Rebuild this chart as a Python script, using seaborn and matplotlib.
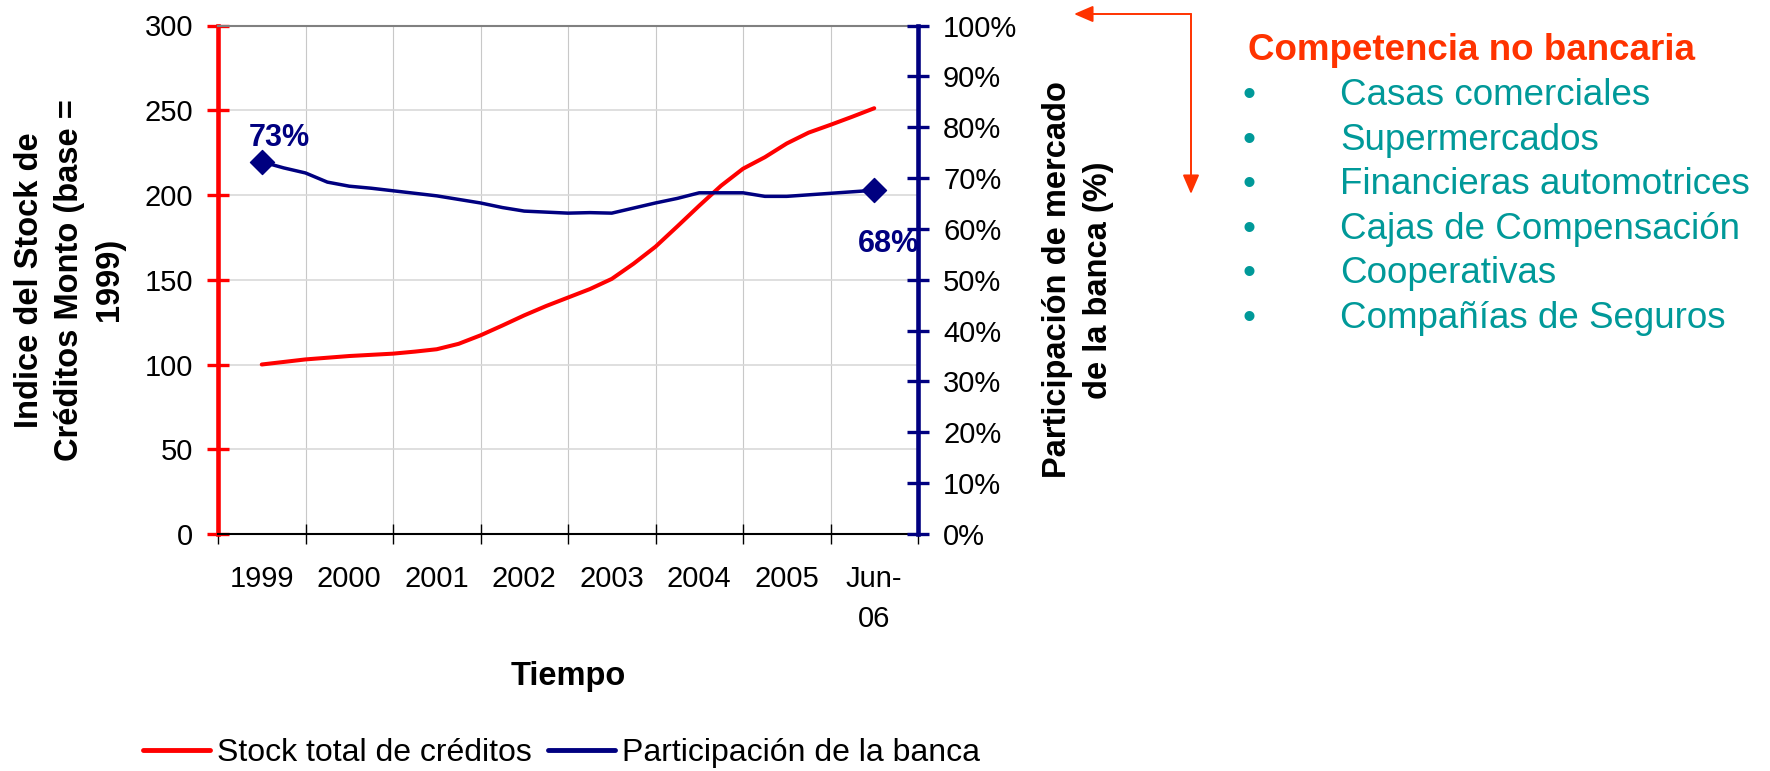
import numpy as np
import pandas as pd
import matplotlib
matplotlib.use("Agg")
import matplotlib.pyplot as plt
from matplotlib.patches import FancyArrowPatch
import seaborn as sns

# ------------------------------------------
# DATA (one point per period)
# ------------------------------------------
stock_creditos = [100, 101.5, 103, 104, 105, 105.7, 106.4, 107.6, 109,
                  112.2, 117.2, 123, 129, 134.5, 139.5, 144.5, 150.5,
                  159.5, 169.5, 181.5, 193.7, 205.5, 215.5, 222.3, 230.4,
                  236.8, 241.4, 246.2, 251.2]
part_banca = [73.2, 72.0, 71.0, 69.2, 68.4, 68.0, 67.5, 67.0, 66.5,
              65.8, 65.1, 64.2, 63.5, 63.3, 63.1, 63.2, 63.1,
              64.1, 65.1, 66.0, 67.1, 67.1, 67.1, 66.4, 66.4,
              66.7, 67.0, 67.3, 67.6]
anios = ["1999", "2000", "2001", "2002", "2003", "2004", "2005", "Jun-\n06"]
competencia = ["Casas comerciales", "Supermercados", "Financieras automotrices",
               "Cajas de Compensación", "Cooperativas", "Compañías de Seguros"]

df = pd.DataFrame({"periodo": np.arange(len(stock_creditos)),
                   "stock": stock_creditos,
                   "banca": part_banca})

# ------------------------------------------
# STYLE
# ------------------------------------------
sns.set_theme(style="white")
plt.rcParams["font.family"] = ["Liberation Sans", "DejaVu Sans"]
plt.rcParams["text.color"] = "black"
plt.rcParams["axes.labelcolor"] = "black"

ROJO = "#FF0000"
AZUL = "#000080"
NARANJA = "#FF3300"
TEAL = "#009999"

W, H = 1770, 771
fig = plt.figure(figsize=(W / 100, H / 100), dpi=100)
ax = fig.add_axes([218 / W, 1 - 534 / H, 700 / W, 508.5 / H])

# left axis: stock index
sns.lineplot(data=df, x="periodo", y="stock", ax=ax, color=ROJO, lw=2.9,
             label="Stock total de créditos")

# right axis: market share
ax2 = ax.twinx()
sns.lineplot(data=df, x="periodo", y="banca", ax=ax2, color=AZUL, lw=2.5,
             label="Participación de la banca")
sns.scatterplot(data=df.iloc[[0, -1]], x="periodo", y="banca", ax=ax2,
                marker="D", s=150, color=AZUL, edgecolor=AZUL, zorder=5,
                legend=False)

ax.set_xlim(-2, 30)
ax.set_ylim(0, 300)
ax2.set_ylim(0, 100)

# x axis: ticks between years, labels in the middle
ax.set_xticks(np.arange(-2, 31, 4))
ax.set_xticklabels([])
ax.set_xticks(np.arange(0, 29, 4), minor=True)
ax.set_xticklabels(anios, minor=True, fontsize=21)
for lbl in ax.get_xticklabels(minor=True):
    lbl.set_linespacing(1.55)
ax.tick_params(axis="x", which="major", direction="inout", length=14,
               width=1, color="black", bottom=True)
ax.tick_params(axis="x", which="minor", length=0, pad=22, bottom=True,
               labelcolor="black")

ax.set_yticks(np.arange(0, 301, 50))
ax.tick_params(axis="y", direction="inout", length=16, width=2.4,
               color=ROJO, pad=10, labelsize=21, left=True, labelcolor="black")
ax2.set_yticks(np.arange(0, 101, 10))
ax2.set_yticklabels([f"{v}%" for v in range(0, 101, 10)])
ax2.tick_params(axis="y", direction="inout", length=16, width=2.4,
                color=AZUL, pad=10, labelsize=21, right=True, labelcolor="black")

ax.grid(True, axis="x", which="major", color="#c8c8c8", lw=0.8)
ax.grid(True, axis="y", color="#d9d9d9", lw=1.2)
ax2.grid(False)

ax.spines["right"].set_visible(False)
for s in ["left", "top", "bottom"]:
    ax2.spines[s].set_visible(False)
ax.spines["left"].set_color(ROJO)
ax.spines["left"].set_linewidth(3.3)
ax.spines["top"].set_color("#808080")
ax.spines["top"].set_linewidth(1.5)
ax.spines["bottom"].set_color("black")
ax.spines["bottom"].set_linewidth(1.5)
ax2.spines["right"].set_color(AZUL)
ax2.spines["right"].set_linewidth(3.3)

# axis labels
ax.set_ylabel("Indice del Stock de\nCréditos Monto (base =\n1999)",
              fontsize=23.5, fontweight="bold", linespacing=1.37, va="center")
ax.yaxis.set_label_coords((69.5 - 218) / 700, 0.5)
ax2.set_ylabel("Participación de mercado\nde la banca (%)",
               fontsize=23.5, fontweight="bold", linespacing=1.45, va="center")
ax2.yaxis.set_label_coords((1078 - 218) / 700, 0.5)
ax.set_xlabel("Tiempo", fontsize=23.5, fontweight="bold", va="center")
ax.xaxis.set_label_coords(0.5, (534 - 676) / 508.5)

# first / last value labels
ax2.annotate("73%", (df["periodo"].iloc[0], part_banca[0]), xytext=(13, 17),
             textcoords="offset points", ha="center", va="center",
             fontsize=22, fontweight="bold", color=AZUL)
ax2.annotate("68%", (df["periodo"].iloc[-1], part_banca[-1]), xytext=(10, -39),
             textcoords="offset points", ha="center", va="center",
             fontsize=22, fontweight="bold", color=AZUL)

# legend at the bottom
h1, l1 = ax.get_legend_handles_labels()
h2, l2 = ax2.get_legend_handles_labels()
for a in (ax, ax2):
    if a.get_legend() is not None:
        a.get_legend().remove()
leg = fig.legend(h1 + h2, l1 + l2, loc="center",
                 bbox_to_anchor=(561.5 / W, 1 - 753 / H), ncol=2, frameon=False,
                 fontsize=23, handlelength=2.1, handletextpad=0.22,
                 columnspacing=0.5, borderpad=0, borderaxespad=0)
for ln in leg.get_lines():
    ln.set_linewidth(3.5)

# ------------------------------------------
# SIDE NOTE: NON-BANK COMPETITION
# ------------------------------------------
arrow_kw = dict(transform=fig.transFigure, color=NARANJA, lw=1.4,
                arrowstyle="-|>,head_length=0.58,head_width=0.25",
                mutation_scale=20, shrinkA=0, shrinkB=0)
corner = (1191 / W, 1 - 14 / H)
fig.add_artist(FancyArrowPatch(corner, (1074 / W, 1 - 14 / H), **arrow_kw))
fig.add_artist(FancyArrowPatch(corner, (1191 / W, 1 - 194 / H), **arrow_kw))

fig.text(1248 / W, 1 - 60 / H, "Competencia no bancaria", fontsize=26.5,
         fontweight="bold", color=NARANJA, va="baseline", ha="left")
for i, item in enumerate(competencia):
    y = 1 - (105 + i * 44.6) / H
    fig.text(1249 / W, y, "•", fontsize=26.5, color=TEAL, va="baseline",
             ha="center")
    fig.text(1340 / W, y, item, fontsize=26.5, color=TEAL, va="baseline",
             ha="left")

fig.savefig("out.png", dpi=100)
